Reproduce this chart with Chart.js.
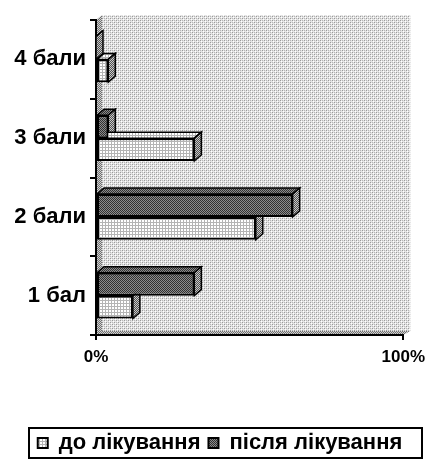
<!DOCTYPE html>
<html lang="uk">
<head>
  <meta charset="UTF-8" />
  <title>Бали до і після лікування</title>
  <script src="https://cdn.jsdelivr.net/npm/chart.js"></script>
  <style>
    body { margin: 0; background: #ffffff; }
    #wrap { width: 432px; height: 464px; }
  </style>
</head>
<body>
  <div id="wrap"><canvas id="scoreChart" width="432" height="464"></canvas></div>

  <script>
    const categories = ['4 бали', '3 бали', '2 бали', '1 бал'];
    const beforeTreatment = [4, 32, 52, 12];
    const afterTreatment = [0, 4, 64, 32];
    const seriesNames = ['до лікування', 'після лікування'];
    const xTickLabels = ['0%', '100%'];

    // small dithered fills, like the old office charts
    function makePattern(size, draw) {
      const c = document.createElement('canvas');
      c.width = size; c.height = size;
      const g = c.getContext('2d');
      draw(g);
      return g.createPattern(c, 'repeat');
    }
    const bgFill = makePattern(4, g => {
      g.fillStyle = '#e4e4e4'; g.fillRect(0, 0, 4, 4);
      g.fillStyle = '#ffffff'; g.fillRect(1, 1, 1, 1); g.fillRect(3, 3, 1, 1);
      g.fillStyle = '#9a9a9a'; g.fillRect(0, 0, 1, 1); g.fillRect(2, 2, 1, 1);
      g.fillStyle = '#b8b8b8'; g.fillRect(2, 0, 1, 1); g.fillRect(0, 2, 1, 1);
    });
    const wallFill = makePattern(2, g => {
      g.fillStyle = '#d0d0d0'; g.fillRect(0, 0, 2, 2);
      g.fillStyle = '#707070'; g.fillRect(1, 0, 1, 1); g.fillRect(0, 1, 1, 1);
    });
    const lightFill = makePattern(3, g => {
      g.fillStyle = '#ffffff'; g.fillRect(0, 0, 3, 3);
      g.fillStyle = '#b4b4b4'; g.fillRect(0, 0, 3, 1); g.fillRect(0, 0, 1, 3);
    });
    const darkFill = makePattern(2, g => {
      g.fillStyle = '#303030'; g.fillRect(0, 0, 2, 2);
      g.fillStyle = '#8c8c8c'; g.fillRect(1, 0, 1, 1); g.fillRect(0, 1, 1, 1);
    });
    const sideFill = makePattern(2, g => {
      g.fillStyle = '#c8c8c8'; g.fillRect(0, 0, 2, 2);
      g.fillStyle = '#505050'; g.fillRect(1, 0, 1, 1); g.fillRect(0, 1, 1, 1);
    });

    const DX = 7, DY = 6;

    const wallPlugin = {
      id: 'wall',
      beforeDraw(chart) {
        const { ctx, chartArea: a } = chart;
        ctx.save();
        ctx.fillStyle = bgFill;
        ctx.fillRect(a.left + 6, a.top - 5, a.right + 7 - (a.left + 6), a.bottom - a.top + 1);
        ctx.fillStyle = wallFill;
        ctx.beginPath();
        ctx.moveTo(a.left, a.top);
        ctx.lineTo(a.left + 6, a.top - 5);
        ctx.lineTo(a.left + 6, a.bottom - 4);
        ctx.lineTo(a.right + 7, a.bottom - 4);
        ctx.lineTo(a.right, a.bottom);
        ctx.lineTo(a.left, a.bottom);
        ctx.closePath();
        ctx.fill();
        ctx.restore();
      }
    };

    // side and top faces of the bars, drawn under the front faces
    const depthPlugin = {
      id: 'depth',
      beforeDatasetsDraw(chart) {
        const ctx = chart.ctx;
        ctx.save();
        ctx.strokeStyle = '#000';
        ctx.lineWidth = 1.5;
        chart.data.datasets.forEach((ds, i) => {
          chart.getDatasetMeta(i).data.forEach(bar => {
            const p = bar.getProps(['x', 'y', 'base', 'height'], true);
            const top = p.y - p.height / 2, bottom = p.y + p.height / 2;
            ctx.fillStyle = ds.backgroundColor;
            ctx.beginPath();
            ctx.moveTo(p.base, top);
            ctx.lineTo(p.base + DX, top - DY);
            ctx.lineTo(p.x + DX, top - DY);
            ctx.lineTo(p.x, top);
            ctx.closePath();
            ctx.fill(); ctx.stroke();
            ctx.fillStyle = sideFill;
            ctx.beginPath();
            ctx.moveTo(p.x, top);
            ctx.lineTo(p.x + DX, top - DY);
            ctx.lineTo(p.x + DX, bottom - DY);
            ctx.lineTo(p.x, bottom);
            ctx.closePath();
            ctx.fill(); ctx.stroke();
          });
        });
        ctx.restore();
      }
    };

    // legend sits in a frame a bit right of the page centre
    const legendBoxPlugin = {
      id: 'legendBox',
      afterLayout(chart) {
        const l = chart.legend;
        l.left = 24;
        l.right = 416;
      },
      afterDraw(chart) {
        const boxes = chart.legend.legendHitBoxes;
        if (!boxes || !boxes.length) return;
        const first = boxes[0];
        const mid = first.top + first.height / 2;
        const ctx = chart.ctx;
        ctx.save();
        ctx.strokeStyle = '#000';
        ctx.lineWidth = 2;
        ctx.strokeRect(29, Math.round(mid - 15), 393, 30);
        ctx.restore();
      }
    };

    const boldFont = size => ({ family: 'Liberation Sans, Arial, sans-serif', size: size, weight: 'bold' });

    new Chart(document.getElementById('scoreChart'), {
      type: 'bar',
      data: {
        labels: categories,
        datasets: [
          {
            label: seriesNames[1],
            data: afterTreatment,
            backgroundColor: darkFill,
            borderColor: '#000',
            borderWidth: 2,
            borderSkipped: false
          },
          {
            label: seriesNames[0],
            data: beforeTreatment,
            backgroundColor: lightFill,
            borderColor: '#000',
            borderWidth: 2,
            borderSkipped: false
          }
        ]
      },
      options: {
        indexAxis: 'y',
        responsive: false,
        animation: false,
        categoryPercentage: 0.58,
        barPercentage: 1,
        layout: { padding: { top: 20, left: 0, right: 20, bottom: 0 } },
        plugins: {
          title: { display: false },
          tooltip: { enabled: false },
          legend: {
            position: 'bottom',
            reverse: true,
            labels: {
              color: '#000',
              font: boldFont(22),
              boxWidth: 10,
              boxHeight: 10,
              padding: 8
            }
          }
        },
        scales: {
          x: {
            min: 0,
            max: 100,
            afterFit(scale) { scale.height = 89; },
            ticks: {
              stepSize: 100,
              color: '#000',
              padding: 7,
              font: boldFont(17),
              callback: v => (v === 0 ? xTickLabels[0] : v === 100 ? xTickLabels[1] : '')
            },
            grid: { drawOnChartArea: false, color: '#000', tickLength: 5, lineWidth: 2 },
            border: { color: '#000', width: 2 }
          },
          y: {
            afterFit(scale) { scale.width = 96; },
            ticks: {
              color: '#000',
              padding: 4,
              font: boldFont(22)
            },
            grid: { offset: true, drawOnChartArea: false, color: '#000', tickLength: 6, lineWidth: 2 },
            border: { color: '#000', width: 2 }
          }
        }
      },
      plugins: [wallPlugin, depthPlugin, legendBoxPlugin]
    });
  </script>
</body>
</html>
